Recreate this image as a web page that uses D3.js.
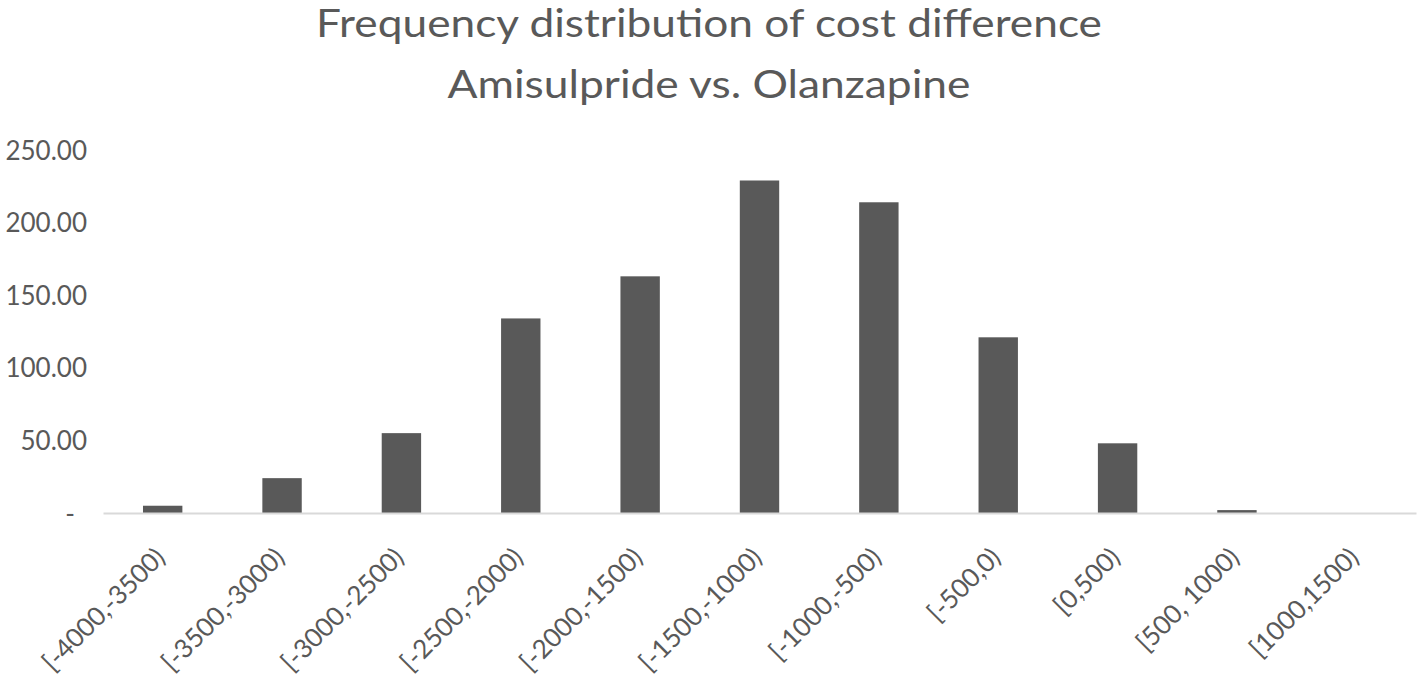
<!DOCTYPE html>
<html>
<head>
<meta charset="utf-8">
<script src="https://cdn.jsdelivr.net/npm/d3@7"></script>
<style>
  html, body { margin: 0; padding: 0; background: #fff; }
  svg { display: block; }
  text { font-family: Lato, "Open Sans", sans-serif; fill: #595959; }
</style>
</head>
<body>
<svg id="chart" width="1418" height="680"></svg>
<script>
const titleLines = ["Frequency distribution of cost difference", "Amisulpride vs. Olanzapine"];
const categories = ["[-4000,-3500)", "[-3500,-3000)", "[-3000,-2500)", "[-2500,-2000)", "[-2000,-1500)", "[-1500,-1000)", "[-1000,-500)", "[-500,0)", "[0,500)", "[500, 1000)", "[1000,1500)"];
const frequencies = [5, 24, 55, 134, 163, 229, 214, 121, 48, 2, 0];
const yTicks = [0, 50, 100, 150, 200, 250];

const svg = d3.select("#chart");
const W = 1418, H = 680;
const plot = { left: 103, right: 1416, top: 150, bottom: 513 };

const x = d3.scaleBand().domain(categories).range([plot.left, plot.right]).paddingInner(0.67).paddingOuter(0.335);
const y = d3.scaleLinear().domain([0, 250]).range([plot.bottom, plot.top]);

// Title
const titleWidths = [786, 523];
svg.append("g").selectAll("text").data(titleLines).join("text")
  .attr("text-anchor", "middle")
  .style("font-size", "38px")
  .attr("x", W / 2).attr("y", (d, i) => 37 + i * 61)
  .attr("textLength", (d, i) => titleWidths[i])
  .attr("lengthAdjust", "spacingAndGlyphs")
  .text(d => d);

// Y axis (labels only)
const yAxis = d3.axisLeft(y).tickValues(yTicks)
  .tickFormat(d => d === 0 ? "-" : d3.format(".2f")(d))
  .tickSize(0).tickPadding(0);
const yg = svg.append("g").attr("transform", "translate(87,0)").call(yAxis);
yg.select(".domain").remove();
yg.selectAll("text").style("font-size", "26px").attr("fill", "#595959").attr("dy", "0.35em");
yg.selectAll(".tick").filter(d => d === 0).select("text").attr("dx", "-12");

// Bars
svg.append("g").selectAll("rect").data(frequencies).join("rect")
  .attr("x", (d, i) => x(categories[i]))
  .attr("width", x.bandwidth())
  .attr("y", d => y(d))
  .attr("height", d => y(0) - y(d))
  .attr("fill", "#595959");

// X axis
const xAxis = d3.axisBottom(x).tickSize(0).tickPadding(0);
const xg = svg.append("g").attr("transform", `translate(0,${plot.bottom})`).call(xAxis);
xg.select(".domain").attr("stroke", "#d9d9d9").attr("stroke-width", 2);
xg.selectAll("text")
  .style("font-size", "26px").attr("fill", "#595959")
  .attr("text-anchor", "end")
  .attr("y", 0).attr("dy", 0)
  .attr("transform", "translate(4,46) rotate(-45)");
</script>
</body>
</html>
